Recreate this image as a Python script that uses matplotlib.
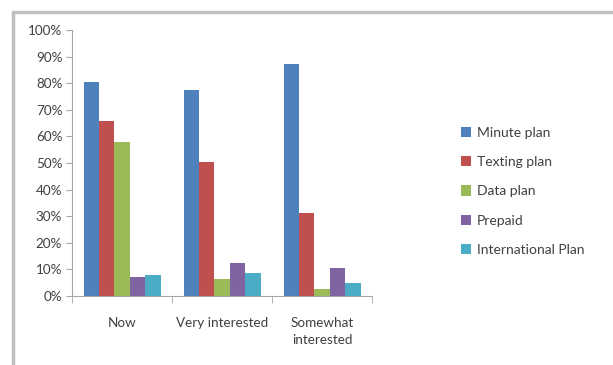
import matplotlib
matplotlib.use("Agg")
import matplotlib.pyplot as plt
import numpy as np
from matplotlib.patches import Rectangle

categories = ["Now", "Very interested", "Somewhat\ninterested"]
series = ["Minute plan", "Texting plan", "Data plan", "Prepaid", "International Plan"]
minute_plan = [80.6, 77.4, 87.2]
texting_plan = [65.9, 50.3, 31.3]
data_plan = [58.0, 6.3, 2.7]
prepaid = [7.3, 12.5, 10.6]
international_plan = [7.9, 8.5, 5.0]
values = [minute_plan, texting_plan, data_plan, prepaid, international_plan]
colors = ["#4F81BD", "#C0504D", "#9BBB59", "#8064A2", "#4BACC6"]
yticks = [0, 10, 20, 30, 40, 50, 60, 70, 80, 90, 100]

plt.rcParams['font.family'] = ['Lato', 'DejaVu Sans']
txt = "#404040"
axc = "#A6A6A6"

fig = plt.figure(figsize=(6.13, 3.65), dpi=100)
# outer chart border (partly off-canvas)
fig.patches.append(Rectangle((12.5 / 613, -0.1), 1.2, (365 - 11.5) / 365 + 0.1,
                             transform=fig.transFigure, fill=False,
                             edgecolor="#BFBFBF", linewidth=2.5))

ax = fig.add_axes([72 / 613, 69 / 365, 300 / 613, 266 / 365])
x = np.arange(len(categories))
w = 0.154
for i, (name, vals) in enumerate(zip(series, values)):
    ax.bar(x - 2 * w + i * w, vals, width=w, color=colors[i], label=name)

ax.set_xlim(-0.5, 2.5)
ax.set_ylim(0, 100)
ax.set_yticks(yticks)
ax.set_yticklabels([f"{v}%" for v in yticks], fontsize=9.7, color=txt)
ax.set_xticks(x)
ax.set_xticklabels(categories, fontsize=9.7, color=txt, linespacing=1.55)
ax.set_xticks([-0.5, 0.5, 1.5, 2.5], minor=True)
ax.tick_params(axis="x", which="major", length=0, pad=15)
ax.tick_params(axis="x", which="minor", length=5, color=axc)
ax.tick_params(axis="y", length=4, color=axc, pad=3)
for s in ["top", "right"]:
    ax.spines[s].set_visible(False)
for s in ["left", "bottom"]:
    ax.spines[s].set_color(axc)

leg = fig.legend(loc="upper left", bbox_to_anchor=(455 / 613, 1 - 121 / 365),
                 frameon=False, fontsize=10, handlelength=0.75, handleheight=0.75,
                 handletextpad=0.4, labelspacing=1.25, borderaxespad=0)
for t in leg.get_texts():
    t.set_color(txt)

fig.savefig("out.png", dpi=100)
